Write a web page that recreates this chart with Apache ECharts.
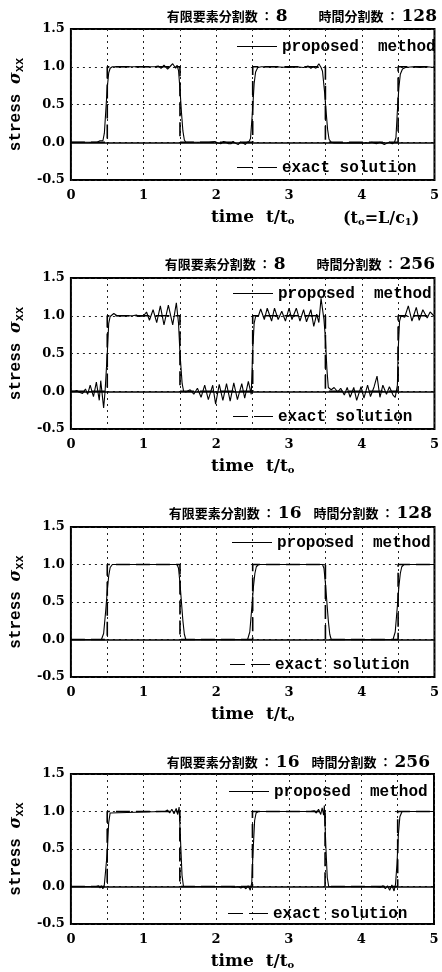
<!DOCTYPE html>
<html>
<head>
<meta charset="utf-8">
<script src="https://cdn.jsdelivr.net/npm/echarts@6/dist/echarts.min.js"></script>
<style>
html,body{margin:0;padding:0;background:#fff;}
#c{width:442px;height:972px;}
</style>
</head>
<body>
<div id="c"></div>
<script>
// ---- data ----
const xTicks = ['0', '1', '2', '3', '4', '5'];
const yTicks = ['-0.5', '0.0', '0.5', '1.0', '1.5'];
const elemDiv = ['8', '8', '16', '16'];
const timeDiv = ['128', '256', '128', '256'];
const seriesNames = ['proposed method', 'exact solution'];

// exact solution (square wave)
const exactT = [0, 0.5, 0.5, 1.5, 1.5, 2.5, 2.5, 3.5, 3.5, 4.5, 4.5, 5];
const exactV = [0, 0, 1, 1, 0, 0, 1, 1, 0, 0, 1, 1];

// proposed method, [t/t0, stress]
const p1 = [[0,0],[0.30,0],[0.36,0],[0.40,0.02],[0.42,0],[0.44,0.02],[0.46,0.12],[0.48,0.42],[0.50,0.72],[0.52,0.92],[0.54,0.98],[0.57,1.0],[0.62,1.0],[0.8,1.0],[1.0,1.0],[1.15,1.0],[1.20,1.01],[1.24,0.98],[1.28,1.02],[1.33,0.97],[1.37,1.01],[1.40,1.04],[1.44,0.98],[1.46,1.02],[1.48,0.95],[1.50,0.70],[1.52,0.40],[1.54,0.15],[1.56,0.03],[1.58,0],[1.7,0],[1.9,0],[1.98,0.01],[2.02,-0.01],[2.06,-0.02],[2.10,0.01],[2.13,0],[2.17,-0.02],[2.20,-0.02],[2.23,0.01],[2.26,-0.01],[2.30,-0.03],[2.33,0],[2.37,-0.01],[2.40,-0.03],[2.42,0],[2.45,0.01],[2.47,0.05],[2.50,0.45],[2.52,0.78],[2.54,0.93],[2.57,0.99],[2.62,1.0],[2.8,1.0],[3.0,0.99],[3.1,1.0],[3.2,0.99],[3.26,1.01],[3.30,0.98],[3.33,1.0],[3.37,0.98],[3.41,1.04],[3.44,0.99],[3.46,0.94],[3.49,0.65],[3.51,0.40],[3.53,0.17],[3.55,0.04],[3.58,0],[3.62,-0.01],[3.8,-0.01],[4.0,-0.01],[4.1,-0.01],[4.14,0],[4.20,-0.02],[4.25,0],[4.31,-0.03],[4.35,-0.01],[4.38,0],[4.42,-0.02],[4.45,0],[4.47,0.06],[4.49,0.42],[4.51,0.72],[4.53,0.90],[4.56,0.97],[4.60,0.99],[4.7,1.0],[4.8,0.99],[4.9,1.0],[5.0,0.99]];

const p2 = [[0,0],[0.05,0],[0.08,0.01],[0.11,-0.01],[0.16,-0.03],[0.20,0.03],[0.23,-0.04],[0.265,0.08],[0.31,-0.07],[0.35,0.12],[0.39,-0.12],[0.41,0.14],[0.45,-0.22],[0.47,0],[0.50,0.5],[0.52,0.9],[0.54,0.99],[0.59,1.03],[0.635,1.0],[0.79,1.0],[0.85,1.0],[0.90,1.01],[0.94,0.99],[1.0,1.0],[1.04,1.05],[1.08,0.94],[1.13,1.08],[1.18,0.91],[1.23,1.13],[1.28,0.88],[1.34,1.14],[1.40,0.88],[1.45,1.17],[1.48,0.90],[1.50,0.5],[1.53,0.1],[1.55,0],[1.58,-0.01],[1.64,0.02],[1.69,-0.04],[1.74,0.04],[1.79,-0.08],[1.84,0.08],[1.89,-0.11],[1.95,0.08],[1.99,-0.17],[2.04,0.09],[2.09,-0.12],[2.14,0.10],[2.19,-0.13],[2.24,0.11],[2.29,-0.11],[2.35,0.10],[2.39,-0.09],[2.44,0.13],[2.48,-0.04],[2.50,0.53],[2.52,0.9],[2.54,0.99],[2.58,1.0],[2.61,1.09],[2.66,0.95],[2.70,1.1],[2.76,0.93],[2.80,1.1],[2.85,0.95],[2.90,1.06],[2.95,0.93],[3.0,1.1],[3.04,0.95],[3.10,1.1],[3.15,0.93],[3.20,1.08],[3.24,0.92],[3.30,1.08],[3.34,0.86],[3.38,1.02],[3.41,0.91],[3.44,1.23],[3.48,0.95],[3.50,0.7],[3.52,0.3],[3.54,0.05],[3.58,0.02],[3.62,0.05],[3.67,-0.01],[3.71,0.04],[3.76,-0.05],[3.80,0.05],[3.84,-0.08],[3.89,0.05],[3.93,-0.12],[3.99,0.06],[4.03,-0.09],[4.08,0.08],[4.12,-0.07],[4.17,0.06],[4.21,0.20],[4.25,-0.08],[4.29,0.08],[4.34,-0.04],[4.38,0.06],[4.43,-0.05],[4.46,-0.08],[4.49,0.08],[4.50,0.53],[4.52,0.93],[4.54,1.0],[4.59,0.98],[4.64,1.13],[4.69,0.93],[4.75,1.11],[4.79,0.94],[4.84,1.08],[4.90,0.97],[4.94,1.05],[4.99,1.0],[5.0,1.0]];

const p3 = [[0,0],[0.42,0],[0.45,0.08],[0.48,0.4],[0.50,0.65],[0.52,0.85],[0.54,0.96],[0.57,1.0],[1.46,1.0],[1.48,0.95],[1.50,0.75],[1.52,0.5],[1.54,0.25],[1.56,0.07],[1.58,0],[2.43,0],[2.46,0.1],[2.49,0.45],[2.51,0.7],[2.53,0.88],[2.55,0.97],[2.58,1.0],[3.46,1.0],[3.48,0.95],[3.50,0.75],[3.52,0.5],[3.54,0.25],[3.56,0.07],[3.58,0],[4.43,0],[4.46,0.1],[4.49,0.45],[4.51,0.7],[4.53,0.88],[4.55,0.97],[4.58,1.0],[5,1.0]];

const p4 = [[0,0],[0.35,0],[0.38,0.01],[0.40,-0.02],[0.42,0.01],[0.44,-0.03],[0.46,0.02],[0.48,0],[0.50,0.45],[0.52,0.85],[0.54,0.98],[0.56,1.0],[1.25,1.0],[1.30,1.0],[1.33,1.02],[1.36,0.98],[1.39,1.03],[1.42,0.97],[1.45,1.04],[1.47,0.96],[1.49,1.06],[1.51,0.6],[1.53,0.15],[1.55,0],[2.2,0],[2.25,-0.01],[2.3,0],[2.34,-0.02],[2.38,0],[2.41,-0.03],[2.44,0.01],[2.47,-0.05],[2.49,0.05],[2.51,0.5],[2.53,0.88],[2.55,0.98],[2.58,1.0],[3.3,1.0],[3.35,1.01],[3.38,0.98],[3.41,1.03],[3.44,0.96],[3.46,1.05],[3.48,0.95],[3.49,1.08],[3.51,0.55],[3.53,0.12],[3.55,0],[4.2,0],[4.26,-0.01],[4.3,0.01],[4.33,-0.03],[4.36,0.01],[4.39,-0.05],[4.42,0.02],[4.45,-0.06],[4.47,0.03],[4.49,0.3],[4.51,0.7],[4.53,0.93],[4.56,1.0],[5,1.0]];

const proposed = [p1, p2, p3, p4];

// ---- layout ----
const grids = [
  {left: 67, top: 29, width: 374, height: 151},
  {left: 63, top: 278, width: 377, height: 151},
  {left: 62, top: 527, width: 375, height: 150},
  {left: 59, top: 774, width: 375, height: 150}
];
const titleTop = [8, 256, 505, 754];
const titleRight = [5, 7, 10, 12];
const legC1 = [45, 292, 541, 790];
const legLeft1 = [237, 233, 232, 229];
const legC2 = [166, 415, 663, 912];
const legLeft2 = [237, 233, 230, 228];
const yNameGap = [43, 41, 42, 40];

const SERIF = 'DejaVu Serif';
const MONO = 'Liberation Mono';
const exactData = exactT.map((t, i) => [t, exactV[i]]);

const option = {
  animation: false,
  backgroundColor: '#fff',
  grid: grids.map(g => Object.assign({show: true, borderColor: '#000', borderWidth: 2, containLabel: false}, g)),
  title: [],
  legend: [],
  xAxis: [],
  yAxis: [],
  series: []
};

const gridLine = {show: true, lineStyle: {color: '#222', width: 1, type: [2, 4]}};
const ICON_SOLID = 'path://M0,0h40v1h-40z';
const ICON_DASH = 'path://M0,0h15v1h-15z M21,0h19v1h-19z';

grids.forEach((g, i) => {
  const gap = (i < 2) ? '{g| }' : '{h| }';
  option.title.push({
    text: '{k|有限要素分割数}{c|：}{n|' + elemDiv[i] + '}' + gap + '{k|時間分割数}{c|：}{n|' + timeDiv[i] + '}',
    right: titleRight[i], top: titleTop[i], padding: 0,
    textStyle: {
      rich: {
        k: {fontFamily: 'Noto Sans CJK JP', fontWeight: 'bold', fontSize: 13, color: '#000'},
        c: {fontFamily: 'Noto Sans CJK JP', fontWeight: 'bold', fontSize: 12, color: '#000', padding: [0, 3, 0, 3]},
        n: {fontFamily: SERIF, fontWeight: 'bold', fontSize: 17, color: '#000'},
        g: {width: 31, fontSize: 12},
        h: {width: 12, fontSize: 12}
      }
    }
  });
  option.xAxis.push({
    type: 'value', gridIndex: i, min: 0, max: 5, interval: 0.5,
    axisLine: {show: false}, axisTick: {show: false},
    splitLine: gridLine,
    axisLabel: {
      margin: 9, color: '#000', fontFamily: SERIF, fontWeight: 'bold', fontSize: 13,
      formatter: v => (Math.abs(v - Math.round(v)) < 1e-9 ? xTicks[Math.round(v)] : '')
    },
    name: '{a|time  t/t}{s|o}',
    nameLocation: 'middle', nameGap: 29,
    nameTextStyle: {
      rich: {
        a: {fontFamily: SERIF, fontWeight: 'bold', fontSize: 17, color: '#000'},
        s: {fontFamily: SERIF, fontWeight: 'bold', fontSize: 10, color: '#000', padding: [7, 0, 0, 0]}
      }
    }
  });
  option.yAxis.push({
    type: 'value', gridIndex: i, min: -0.5, max: 1.5, interval: 0.5,
    axisLine: {show: false}, axisTick: {show: false},
    splitLine: gridLine,
    axisLabel: {
      margin: 6, color: '#000', fontFamily: SERIF, fontWeight: 'bold', fontSize: 13,
      formatter: v => yTicks[Math.round((v + 0.5) / 0.5)]
    },
    name: '{a|stress }{b|σ}{c|xx}',
    nameLocation: 'middle', nameGap: yNameGap[i],
    nameTextStyle: {
      rich: {
        a: {fontFamily: MONO, fontWeight: 'bold', fontSize: 16, color: '#000'},
        b: {fontFamily: SERIF, fontStyle: 'italic', fontWeight: 'bold', fontSize: 16, color: '#000'},
        c: {fontFamily: MONO, fontWeight: 'bold', fontSize: 12, color: '#000', padding: [8, 0, 0, 0]}
      }
    }
  });
  option.series.push({
    name: seriesNames[0], type: 'line', xAxisIndex: i, yAxisIndex: i,
    data: proposed[i], symbol: 'none', z: 4, color: '#000',
    lineStyle: {color: '#000', width: 1.1}
  });
  option.series.push({
    name: seriesNames[1], type: 'line', xAxisIndex: i, yAxisIndex: i,
    data: exactData, symbol: 'none', z: 3, color: '#000',
    lineStyle: {color: '#000', width: 1.6, type: [14, 6]},
    markLine: {
      silent: true, symbol: 'none', label: {show: false},
      lineStyle: {color: '#000', width: 1.6, type: 'solid'},
      data: [{yAxis: 0}]
    }
  });
  const legBase = {
    padding: 0, itemWidth: 40, itemHeight: 1.4, itemGap: 0, selectedMode: false,
    itemStyle: {color: '#000', borderWidth: 0},
    textStyle: {fontFamily: MONO, fontWeight: 'bold', fontSize: 16, color: '#000'}
  };
  option.legend.push(Object.assign({}, legBase, {
    data: [{name: seriesNames[0], icon: ICON_SOLID}], left: legLeft1[i], top: legC1[i] - 6.5,
    formatter: n => n.replace(' ', '  ')
  }));
  option.legend.push(Object.assign({}, legBase, {
    data: [{name: seriesNames[1], icon: ICON_DASH}], left: legLeft2[i], top: legC2[i] - 6.5
  }));
});

option.title.push({
  text: '{a|(t}{s|o}{a|=L/c}{s|1}{a|)}',
  left: 343, top: 211, padding: 0,
  textStyle: {
    rich: {
      a: {fontFamily: SERIF, fontWeight: 'bold', fontSize: 16, color: '#000'},
      s: {fontFamily: SERIF, fontWeight: 'bold', fontSize: 10, color: '#000', padding: [6, 0, 0, 0]}
    }
  }
});

const chart = echarts.init(document.getElementById('c'), null, {renderer: 'canvas'});
chart.setOption(option);
</script>
</body>
</html>
